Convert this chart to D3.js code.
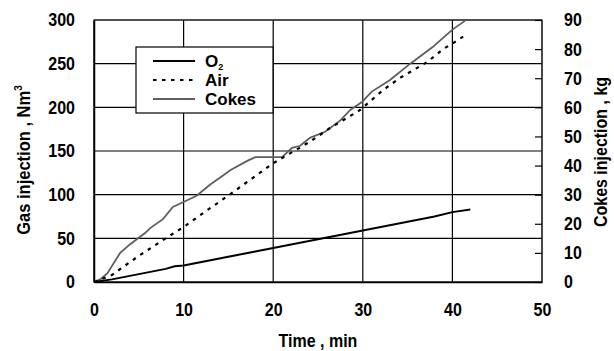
<!DOCTYPE html>
<html>
<head>
<meta charset="utf-8">
<script src="https://cdn.jsdelivr.net/npm/d3@7"></script>
<style>
  body { margin: 0; background: #fff; }
  svg { display: block; font-family: "Liberation Sans", Arial, sans-serif; font-weight: bold; }
  /* the original lettering is a little taller than Arial */
  svg text { transform-box: fill-box; transform-origin: center; transform: scaleY(1.14); }
  svg text.legend-text { transform: none; }
</style>
</head>
<body>
<div id="chart"></div>
<script>
// time (min) / value pairs
const o2Time = [0, 2, 4, 6, 8, 9, 10, 11, 12, 14, 16, 18, 20, 22, 24, 26, 28, 30, 32, 34, 36, 38, 40, 42];
const o2Gas = [0, 3, 7, 11, 15, 18, 19, 21, 23, 27, 31, 35, 39, 43, 47, 51, 55, 59, 63, 67, 71, 75, 80, 83];

const airTime = [0, 2, 5, 8, 10, 12.6, 15, 20, 24, 26.3, 29.7, 32.3, 34.2, 37.2, 39, 40, 41.2];
const airGas = [0, 8, 30, 50, 63, 82, 99, 136, 160, 176, 197, 220, 234, 252, 267, 273, 281];

const cokesTime = [0, 0.7, 1.5, 2.9, 4.0, 5.7, 6.3, 7.7, 8.8, 10, 11.5, 12.9, 14.4, 15.2, 17.1, 18, 21, 22.1, 23, 24.1, 25.8, 27.5, 28.6, 29.9, 31, 33, 35.3, 37.8, 40, 41.4];
const cokesKg = [0, 0.9, 3, 9.9, 12.9, 16.8, 18.6, 21.6, 25.8, 27.5, 29.7, 33.3, 36.6, 38.4, 41.6, 42.9, 42.9, 46.1, 46.8, 49.5, 51.6, 55.5, 59.1, 61.8, 65.4, 69.3, 75, 80.7, 86.7, 89.7];

const xTicks = [0, 10, 20, 30, 40, 50];
const gasTicks = [0, 50, 100, 150, 200, 250, 300];
const kgTicks = [0, 10, 20, 30, 40, 50, 60, 70, 80, 90];

const width = 614, height = 351;
const margin = { top: 20, right: 72, bottom: 69, left: 94 };
const w = width - margin.left - margin.right;
const h = height - margin.top - margin.bottom;

const svg = d3.select('#chart')
  .append('svg')
  .attr('width', width)
  .attr('height', height);

const g = svg.append('g')
  .attr('transform', `translate(${margin.left},${margin.top})`);

const x = d3.scaleLinear().domain([0, 50]).range([0, w]);
const yGas = d3.scaleLinear().domain([0, 300]).range([h, 0]);
const yKg = d3.scaleLinear().domain([0, 90]).range([h, 0]);

// grid
g.selectAll('.hgrid')
  .data(gasTicks)
  .enter()
  .append('line')
  .attr('x1', 0).attr('x2', w)
  .attr('y1', d => yGas(d)).attr('y2', d => yGas(d))
  .attr('stroke', '#000')
  .attr('stroke-width', 1.2);

g.selectAll('.vgrid')
  .data(xTicks)
  .enter()
  .append('line')
  .attr('x1', d => x(d)).attr('x2', d => x(d))
  .attr('y1', 0).attr('y2', h)
  .attr('stroke', '#000')
  .attr('stroke-width', 1.2);

g.append('rect')
  .attr('width', w).attr('height', h)
  .attr('fill', 'none')
  .attr('stroke', '#333')
  .attr('stroke-width', 1.2);

// left axis
const leftAxis = g.append('g')
  .call(d3.axisLeft(yGas).tickValues(gasTicks).tickSize(0).tickPadding(19));
leftAxis.select('.domain').attr('stroke', '#000').attr('stroke-width', 1.5);
leftAxis.selectAll('text').attr('font-size', '16px').attr('font-family', null).attr('fill', '#000');

// bottom axis
const bottomAxis = g.append('g')
  .attr('transform', `translate(0,${h})`)
  .call(d3.axisBottom(x).tickValues(xTicks).tickSize(0).tickPadding(22));
bottomAxis.select('.domain').attr('stroke', '#000').attr('stroke-width', 1.5);
bottomAxis.selectAll('text').attr('font-size', '16px').attr('font-family', null).attr('fill', '#000');

// right axis, ticks pointing inward
const rightAxis = g.append('g')
  .attr('transform', `translate(${w},0)`)
  .call(d3.axisRight(yKg).tickValues(kgTicks).tickSize(-7).tickPadding(22));
rightAxis.select('.domain').remove();
rightAxis.selectAll('line').attr('stroke', '#000').attr('stroke-width', 1.2);
rightAxis.selectAll('text').attr('font-size', '16px').attr('font-family', null).attr('fill', '#000');

// series
const gasLine = d3.line().x(d => x(d[0])).y(d => yGas(d[1]));
const kgLine = d3.line().x(d => x(d[0])).y(d => yKg(d[1]));

g.append('path')
  .datum(d3.zip(cokesTime, cokesKg))
  .attr('d', kgLine)
  .attr('fill', 'none')
  .attr('stroke', '#5e5e5e')
  .attr('stroke-width', 1.8);

g.append('path')
  .datum(d3.zip(airTime, airGas))
  .attr('d', gasLine)
  .attr('fill', 'none')
  .attr('stroke', '#000')
  .attr('stroke-width', 2.2)
  .attr('stroke-dasharray', '3.5,5.5');

g.append('path')
  .datum(d3.zip(o2Time, o2Gas))
  .attr('d', gasLine)
  .attr('fill', 'none')
  .attr('stroke', '#000')
  .attr('stroke-width', 2);

// legend
const legend = svg.append('g').attr('transform', 'translate(136,47)');
legend.append('rect')
  .attr('width', 137).attr('height', 66)
  .attr('fill', '#fff')
  .attr('stroke', '#000')
  .attr('stroke-width', 1.2);

const legendItems = [
  { label: 'O', sub: '2', color: '#000', dash: null, sw: 2 },
  { label: 'Air', color: '#000', dash: '3.5,5.5', sw: 2.2 },
  { label: 'Cokes', color: '#5e5e5e', dash: null, sw: 1.8 }
];
legendItems.forEach((d, i) => {
  const yy = 14 + i * 19;
  legend.append('line')
    .attr('x1', 17).attr('x2', 59)
    .attr('y1', yy).attr('y2', yy)
    .attr('stroke', d.color)
    .attr('stroke-width', d.sw)
    .attr('stroke-dasharray', d.dash);
  const t = legend.append('text')
    .attr('class', 'legend-text')
    .attr('x', 69).attr('y', yy + 6)
    .attr('font-size', '17px')
    .text(d.label);
  if (d.sub) {
    t.append('tspan').attr('font-size', '9px').attr('dy', 3).text(d.sub);
  }
});

// axis titles
svg.append('text')
  .attr('x', margin.left + w / 2)
  .attr('y', 346)
  .attr('text-anchor', 'middle')
  .attr('font-size', '16px')
  .text('Time , min');

const leftTitle = svg.append('g')
  .attr('transform', 'translate(29,160) rotate(-90)')
  .append('text')
  .attr('text-anchor', 'middle')
  .attr('font-size', '16.5px')
  .text('Gas injection , Nm');
leftTitle.append('tspan').attr('font-size', '10px').attr('dy', -7).text('3');

svg.append('g')
  .attr('transform', 'translate(606,152) rotate(-90)')
  .append('text')
  .attr('text-anchor', 'middle')
  .attr('font-size', '16px')
  .text('Cokes injection , kg');
</script>
</body>
</html>
